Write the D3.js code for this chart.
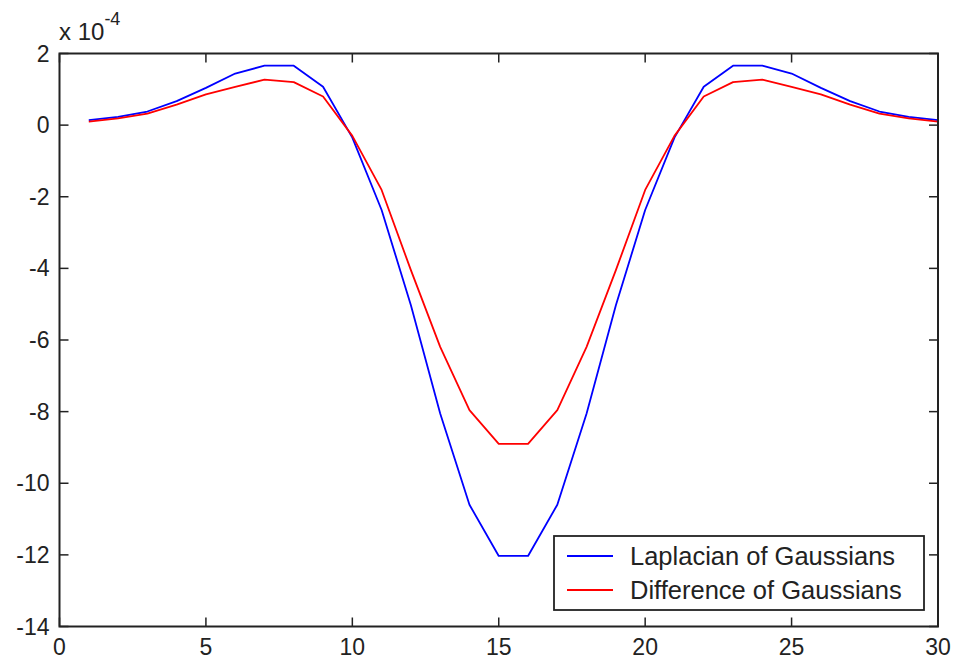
<!DOCTYPE html>
<html>
<head>
<meta charset="utf-8">
<script src="https://cdn.jsdelivr.net/npm/d3@7"></script>
<style>
  html, body { margin: 0; padding: 0; background: #fff; }
  svg { display: block; }
  text { font-family: "Liberation Sans", Arial, Helvetica, sans-serif; fill: #222; }
</style>
</head>
<body>
<svg id="chart" width="954" height="660"></svg>
<script>
// Sample index along the 1-D kernel
const samples = [1, 2, 3, 4, 5, 6, 7, 8, 9, 10, 11, 12, 13, 14, 15,
                 16, 17, 18, 19, 20, 21, 22, 23, 24, 25, 26, 27, 28, 29, 30];

// Kernel values, in units of 1e-4
const laplacianOfGaussians = [0.14, 0.23, 0.38, 0.67, 1.04, 1.44, 1.66, 1.66, 1.07, -0.35,
                              -2.37, -5.03, -8.05, -10.6, -12.03, -12.03, -10.6, -8.05, -5.03, -2.37,
                              -0.35, 1.07, 1.66, 1.66, 1.44, 1.04, 0.67, 0.38, 0.23, 0.14];
const differenceOfGaussians = [0.10, 0.19, 0.32, 0.57, 0.86, 1.07, 1.27, 1.20, 0.80, -0.30,
                               -1.81, -4.05, -6.19, -7.96, -8.90, -8.90, -7.96, -6.19, -4.05, -1.81,
                               -0.30, 0.80, 1.20, 1.27, 1.07, 0.86, 0.57, 0.32, 0.19, 0.10];

const seriesNames = ["Laplacian of Gaussians", "Difference of Gaussians"];
const seriesColors = ["#0000ff", "#ff0000"];

const xTicks = [0, 5, 10, 15, 20, 25, 30];
const yTicks = [2, 0, -2, -4, -6, -8, -10, -12, -14];

const svg = d3.select("#chart");
const plot = { left: 59.5, right: 938, top: 53.5, bottom: 626.5 };

const x = d3.scaleLinear().domain([0, 30]).range([plot.left, plot.right]);
const y = d3.scaleLinear().domain([-14, 2]).range([plot.bottom, plot.top]);

const tickLen = 9;
const axisColor = "#222";

// Inward ticks on all four sides of the box
const axes = svg.append("g").attr("stroke", axisColor).attr("stroke-width", 1.5);
axes.selectAll("line.xb").data(xTicks).join("line").attr("class", "xb")
  .attr("x1", d => x(d)).attr("x2", d => x(d))
  .attr("y1", plot.bottom).attr("y2", plot.bottom - tickLen);
axes.selectAll("line.xt").data(xTicks).join("line").attr("class", "xt")
  .attr("x1", d => x(d)).attr("x2", d => x(d))
  .attr("y1", plot.top).attr("y2", plot.top + tickLen);
axes.selectAll("line.yl").data(yTicks).join("line").attr("class", "yl")
  .attr("x1", plot.left).attr("x2", plot.left + tickLen)
  .attr("y1", d => y(d)).attr("y2", d => y(d));
axes.selectAll("line.yr").data(yTicks).join("line").attr("class", "yr")
  .attr("x1", plot.right).attr("x2", plot.right - tickLen)
  .attr("y1", d => y(d)).attr("y2", d => y(d));

// Tick labels
svg.append("g").selectAll("text").data(xTicks).join("text")
  .attr("x", d => x(d)).attr("y", plot.bottom + 28)
  .attr("text-anchor", "middle").attr("font-size", 23)
  .text(d => d);
svg.append("g").selectAll("text").data(yTicks).join("text")
  .attr("x", plot.left - 10).attr("y", d => y(d) + 8)
  .attr("text-anchor", "end").attr("font-size", 23)
  .text(d => d);

// Exponent label
const expo = svg.append("text").attr("x", 59).attr("y", 40).attr("font-size", 24);
expo.append("tspan").text("x 10");
expo.append("tspan").attr("dy", -15).attr("font-size", 18).text("-4");

// Data lines
const line = d3.line().x((d, i) => x(samples[i])).y(d => y(d));
[laplacianOfGaussians, differenceOfGaussians].forEach((vals, k) => {
  svg.append("path").datum(vals)
    .attr("d", line)
    .attr("fill", "none")
    .attr("stroke", seriesColors[k])
    .attr("stroke-width", 1.8)
    .attr("stroke-linejoin", "round");
});

// Axes box
svg.append("rect")
  .attr("x", plot.left).attr("y", plot.top)
  .attr("width", plot.right - plot.left).attr("height", plot.bottom - plot.top)
  .attr("fill", "none").attr("stroke", axisColor).attr("stroke-width", 2);

// Legend
const legend = svg.append("g");
legend.append("rect")
  .attr("x", 554).attr("y", 536).attr("width", 370).attr("height", 74)
  .attr("fill", "#fff").attr("stroke", axisColor).attr("stroke-width", 1.8);
seriesNames.forEach((name, k) => {
  const cy = 556 + k * 34;
  legend.append("line")
    .attr("x1", 567).attr("x2", 613).attr("y1", cy).attr("y2", cy)
    .attr("stroke", seriesColors[k]).attr("stroke-width", 1.8);
  legend.append("text")
    .attr("x", 630).attr("y", cy + 9)
    .attr("font-size", 25.5)
    .text(name);
});
</script>
</body>
</html>
